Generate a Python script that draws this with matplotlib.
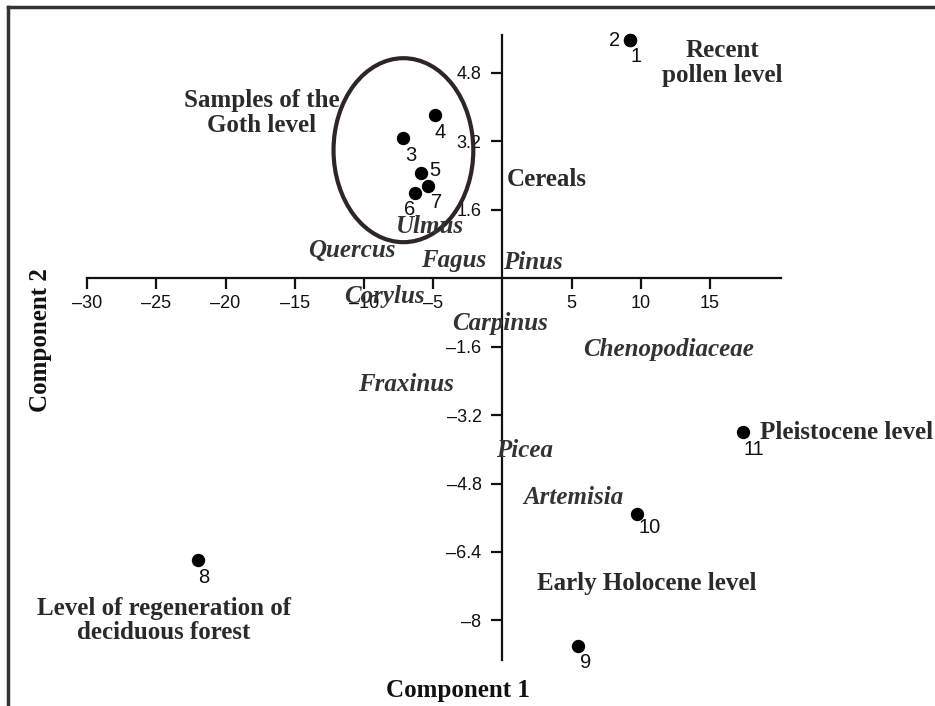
import matplotlib
matplotlib.use("Agg")
import matplotlib.pyplot as plt
from matplotlib.patches import Ellipse
from matplotlib.lines import Line2D

# ---- data ----
sample_ids = ["1", "2", "3", "4", "5", "6", "7", "8", "9", "10", "11"]
comp1 = [9.25, 9.25, -7.15, -4.9, -5.85, -6.3, -5.35, -22.0, 5.5, 9.7, 17.4]
comp2 = [5.56, 5.56, 3.27, 3.81, 2.45, 1.99, 2.15, -6.59, -8.6, -5.51, -3.6]
# label offsets in pixels (dx right, dy down)
label_dx = [6, -16, 7, 6, 13, -6, 8, 6, 7, 13, 11]
label_dy = [16, 0, 17, 17, -3, 17, 16, 17, 16, 14, 17]

taxa = ["Ulmus", "Quercus", "Fagus", "Pinus", "Corylus", "Carpinus",
        "Chenopodiaceae", "Fraxinus", "Picea", "Artemisia"]
taxa_x = [-5.2, -10.87, -3.5, 2.2, -8.5, -0.17, 12.0, -6.97, 1.63, 5.1]
taxa_y = [1.21, 0.65, 0.42, 0.37, -0.44, -1.05, -1.66, -2.48, -4.02, -5.12]

groups = ["Samples of the\nGoth level", "Recent\npollen level", "Cereals",
          "Early Holocene level", "Level of regeneration of\ndeciduous forest"]
groups_x = [-17.4, 15.9, 3.23, 10.4, -24.45]
groups_y = [3.86, 5.02, 2.31, -7.13, -8.0]

xticks = [-30, -25, -20, -15, -10, -5, 5, 10, 15]
yticks = [4.8, 3.2, 1.6, -1.6, -3.2, -4.8, -6.4, -8]
ytick_labels = ["4.8", "3.2", "1.6", "\u20131.6", "\u20133.2", "\u20134.8", "\u20136.4", "\u20138"]
xtick_labels = ["\u201330", "\u201325", "\u201320", "\u201315", "\u201310", "\u20135", "5", "10", "15"]

# ---- figure ----
fig = plt.figure(figsize=(9.35, 7.06), dpi=100)
ax = fig.add_axes([0, 0, 1, 1])
ax.set_xlim(-36.3, 31.26)
ax.set_ylim(-10.0, 6.5)
ax.patch.set_alpha(0)

for s in ["top", "right"]:
    ax.spines[s].set_visible(False)
ax.spines["left"].set_position(("data", 0))
ax.spines["bottom"].set_position(("data", 0))
ax.spines["left"].set_bounds(-8.93, 5.68)
ax.spines["bottom"].set_bounds(-30, 20.1)
for s in ["left", "bottom"]:
    ax.spines[s].set_linewidth(1.6)
    ax.spines[s].set_color("#111111")

ax.set_xticks(xticks)
ax.set_xticklabels(xtick_labels)
ax.set_yticks(yticks)
ax.set_yticklabels(ytick_labels)
ax.tick_params(axis="x", direction="out", length=8, width=1.6, pad=4,
               labelsize=13, colors="#111111")
ax.tick_params(axis="y", direction="out", length=8, width=1.6, pad=7,
               labelsize=13, colors="#111111")
for lab in ax.get_xticklabels() + ax.get_yticklabels():
    lab.set_fontfamily("Liberation Sans")

# ellipse
ax.add_patch(Ellipse((-7.15, 2.99), 10.1, 4.3, fill=False,
                     edgecolor="#2e2626", linewidth=3.0, zorder=2))

# points
ax.plot(comp1, comp2, "o", color="black", markersize=8.6, zorder=3)
for sid, x, y, dx, dy in zip(sample_ids, comp1, comp2, label_dx, label_dy):
    ax.annotate(sid, (x, y), xytext=(dx * 0.72, -dy * 0.72),
                textcoords="offset points", ha="center", va="center",
                fontsize=14.5, family="Liberation Sans", color="#111111")

# taxa labels
for t, x, y in zip(taxa, taxa_x, taxa_y):
    ax.text(x, y, t, ha="center", va="center", fontsize=18,
            family="Liberation Serif", fontweight="bold", fontstyle="italic",
            color="#333333")

# group labels
for g, x, y in zip(groups, groups_x, groups_y):
    ax.text(x, y, g, ha="center", va="center", fontsize=18,
            family="Liberation Serif", fontweight="bold", color="#2a2a2a",
            linespacing=1.1)
ax.text(18.64, -3.6, "Pleistocene level", ha="left", va="center", fontsize=18,
        family="Liberation Serif", fontweight="bold", color="#2a2a2a")

# axis titles
ax.text(-3.2, -9.63, "Component 1", ha="center", va="center", fontsize=18,
        family="Liberation Serif", fontweight="bold", color="#111111")
ax.text(-33.4, -1.45, "Component 2", ha="center", va="center", fontsize=18,
        rotation=90, family="Liberation Serif", fontweight="bold", color="#111111")

# outer frame (top and left)
fig.add_artist(Line2D([8 / 935, 1], [1 - 7 / 706, 1 - 7 / 706], transform=fig.transFigure,
                      color="#333333", linewidth=2.5))
fig.add_artist(Line2D([8 / 935, 8 / 935], [0, 1 - 7 / 706], transform=fig.transFigure,
                      color="#333333", linewidth=2.5))

fig.savefig("out.png", dpi=100)
